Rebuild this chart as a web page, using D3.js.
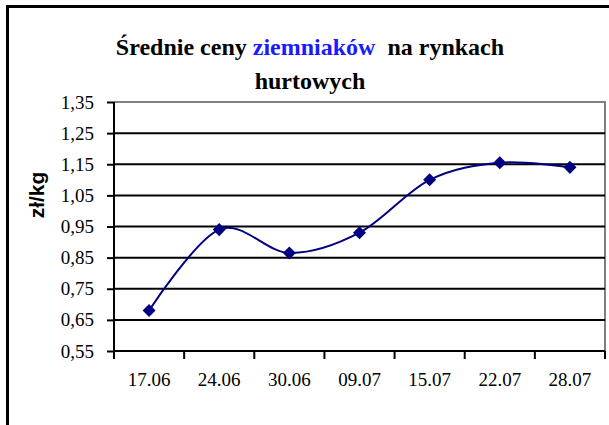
<!DOCTYPE html>
<html>
<head>
<meta charset="utf-8">
<script src="https://cdn.jsdelivr.net/npm/d3@7"></script>
<style>
  html, body { margin: 0; padding: 0; background: #fff; }
  svg { display: block; }
  .serif { font-family: "Liberation Serif", "Times New Roman", Times, "Nimbus Roman", "Nimbus Roman No9 L", FreeSerif, "Noto Serif", Tinos, "DejaVu Serif", serif; }
</style>
</head>
<body>
<div id="chart"></div>
<script>
// data
const dates = ["17.06", "24.06", "30.06", "09.07", "15.07", "22.07", "28.07"];
const prices = [0.68, 0.94, 0.865, 0.93, 1.10, 1.155, 1.14];
const yTicks = [0.55, 0.65, 0.75, 0.85, 0.95, 1.05, 1.15, 1.25, 1.35];

const width = 609;
const height = 425;
const plot = {left: 114, right: 605, top: 102, bottom: 351};

const svg = d3.select("#chart")
  .append("svg")
  .attr("width", width)
  .attr("height", height);

// outer frame (runs off the right/bottom edge)
svg.append("rect")
  .attr("x", 7.5)
  .attr("y", 6.5)
  .attr("width", width + 20)
  .attr("height", height + 20)
  .attr("fill", "none")
  .attr("stroke", "#000")
  .attr("stroke-width", 3);

const x = d3.scaleBand()
  .domain(dates)
  .range([plot.left, plot.right])
  .padding(0);

const y = d3.scaleLinear()
  .domain([0.55, 1.35])
  .range([plot.bottom, plot.top]);

const comma = d3.formatLocale({decimal: ",", thousands: " ", grouping: [3], currency: ["", " zł"]}).format(".2f");

// plot area border (grey top/right)
svg.append("path")
  .attr("d", `M${plot.left},${plot.top}H${plot.right}V${plot.bottom}`)
  .attr("fill", "none")
  .attr("stroke", "#808080")
  .attr("stroke-width", 2);

// gridlines
svg.append("g")
  .selectAll("line")
  .data(yTicks.slice(1, -1))
  .join("line")
    .attr("x1", plot.left)
    .attr("x2", plot.right)
    .attr("y1", d => y(d))
    .attr("y2", d => y(d))
    .attr("stroke", "#000")
    .attr("stroke-width", 2);

// y axis
const yAxis = svg.append("g")
  .attr("transform", `translate(${plot.left},0)`)
  .call(d3.axisLeft(y).tickValues(yTicks).tickFormat(comma).tickSize(7).tickPadding(13));

// x axis with ticks on band edges
const xAxis = svg.append("g")
  .attr("transform", `translate(0,${plot.bottom})`)
  .call(d3.axisBottom(x).tickSize(0).tickPadding(22));

xAxis.selectAll(".edge")
  .data(dates.map(d => x(d)).concat([x(dates[dates.length - 1]) + x.bandwidth()]))
  .join("line")
    .attr("class", "edge")
    .attr("x1", d => d)
    .attr("x2", d => d)
    .attr("y1", 0)
    .attr("y2", 8)
    .attr("stroke", "#000")
    .attr("stroke-width", 2);

[yAxis, xAxis].forEach(a => {
  a.attr("font-family", null).attr("font-size", null).classed("serif", true);
  a.select(".domain").attr("stroke", "#000").attr("stroke-width", 2);
  a.selectAll(".tick line").attr("stroke", "#000").attr("stroke-width", 2);
  a.selectAll("text")
    .style("font-size", "19px")
    .attr("fill", "#000");
});
xAxis.select(".domain").attr("d", `M${plot.left},0H${plot.right}`);
yAxis.select(".domain").attr("d", `M0,${plot.top}V${plot.bottom}`);

// smoothed line
const line = d3.line()
  .x((d, i) => x(dates[i]) + x.bandwidth() / 2)
  .y(d => y(d))
  .curve(d3.curveCardinal.tension(0));

svg.append("path")
  .datum(prices)
  .attr("d", line)
  .attr("fill", "none")
  .attr("stroke", "#000080")
  .attr("stroke-width", 2);

svg.append("g")
  .selectAll("path")
  .data(prices)
  .join("path")
    .attr("d", d3.symbol(d3.symbolSquare, 85))
    .attr("transform", (d, i) => `translate(${x(dates[i]) + x.bandwidth() / 2},${y(d)}) rotate(45)`)
    .attr("fill", "#000080");

// title
const title = svg.append("text")
  .attr("class", "serif")
  .attr("x", 310)
  .attr("y", 55)
  .attr("text-anchor", "middle")
  .style("font-weight", "bold")
  .style("font-size", "24px");
title.append("tspan").text("Średnie ceny ");
title.append("tspan").attr("fill", "#1a1aff").text("ziemniaków");
title.append("tspan").attr("xml:space", "preserve").text("  na rynkach");

svg.append("text")
  .attr("class", "serif")
  .attr("x", 310)
  .attr("y", 89)
  .attr("text-anchor", "middle")
  .style("font-weight", "bold")
  .style("font-size", "24px")
  .text("hurtowych");

// y axis title
svg.append("text")
  .attr("transform", "translate(44,195) rotate(-90)")
  .attr("text-anchor", "middle")
  .style("font-family", "'Liberation Sans', Arial, sans-serif")
  .style("font-weight", "bold")
  .style("font-size", "21px")
  .text("zł/kg");
</script>
</body>
</html>
